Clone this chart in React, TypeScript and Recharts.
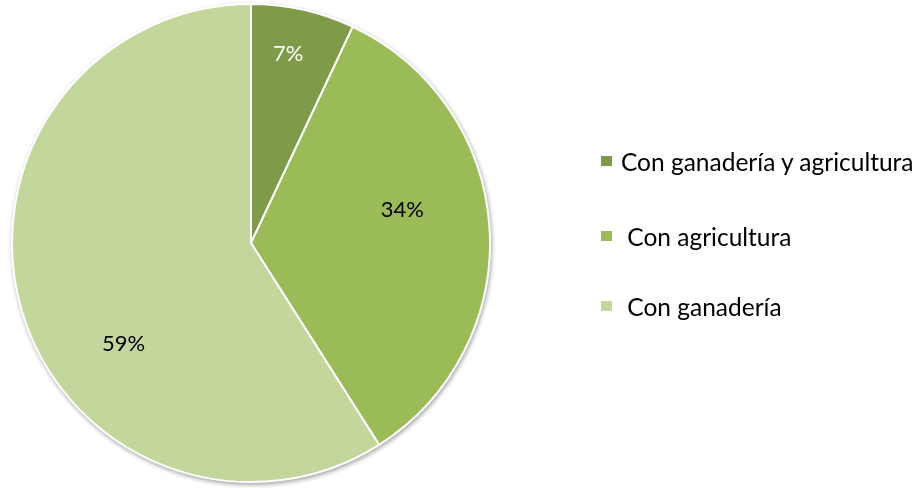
import { PieChart, Pie, Cell } from "recharts";

const CATEGORIES = ["Con ganadería y agricultura", " Con agricultura", " Con ganadería"];
const VALUES = [7, 34, 59];
const COLORS = ["#7F9A48", "#9BBB59", "#C3D69B"];
const LABEL_COLORS = ["#FFFFFF", "#000000", "#000000"];
// label placement (fraction of radius, angle nudge in degrees), Excel "best fit" style
const LABEL_RADIUS = [0.814, 0.65, 0.678];
const LABEL_SHIFT = [1.6, 9.4, 21.9];
const LEGEND_Y = [161, 236, 306];

const data = CATEGORIES.map((name, i) => ({ name, value: VALUES[i] }));
const total = VALUES.reduce((a, b) => a + b, 0);

const RADIAN = Math.PI / 180;
const FONT = "Lato, 'Open Sans', sans-serif";

function renderLabel(props: any) {
  const { cx, cy, midAngle, outerRadius, index, value } = props;
  const r = outerRadius * LABEL_RADIUS[index];
  const a = midAngle + LABEL_SHIFT[index];
  const x = cx + r * Math.cos(-a * RADIAN);
  const y = cy + r * Math.sin(-a * RADIAN);
  return (
    <text
      x={x}
      y={y}
      fill={LABEL_COLORS[index]}
      textAnchor="middle"
      dominantBaseline="central"
      fontFamily={FONT}
      fontSize={22}
    >
      {Math.round((value / total) * 100)}%
    </text>
  );
}

export default function App() {
  return (
    <div
      style={{
        position: "fixed",
        left: 0,
        top: 0,
        width: 920,
        height: 488,
        background: "#fff",
        fontFamily: FONT,
      }}
    >
      <div style={{ position: "absolute", left: 0, top: 0, filter: "drop-shadow(1px 2px 2px rgba(0,0,0,0.35))" }}>
        <PieChart width={500} height={488} margin={{ top: 0, right: 0, bottom: 0, left: 0 }}>
          <Pie
            data={data}
            dataKey="value"
            nameKey="name"
            cx={251}
            cy={243}
            outerRadius={239}
            startAngle={90}
            endAngle={-270}
            stroke="#FFFFFF"
            strokeWidth={2}
            label={renderLabel}
            labelLine={false}
            isAnimationActive={false}
          >
            {data.map((d, i) => (
              <Cell key={d.name} fill={COLORS[i]} />
            ))}
          </Pie>
        </PieChart>
      </div>
      {CATEGORIES.map((name, i) => (
        <div
          key={name}
          style={{
            position: "absolute",
            left: 601,
            top: LEGEND_Y[i] - 16,
            height: 32,
            display: "flex",
            alignItems: "center",
            fontSize: 24.5,
            color: "#000",
            whiteSpace: "pre",
          }}
        >
          <span style={{ width: 11, height: 10, background: COLORS[i], marginRight: 9, display: "inline-block" }} />
          <span>{name}</span>
        </div>
      ))}
    </div>
  );
}
